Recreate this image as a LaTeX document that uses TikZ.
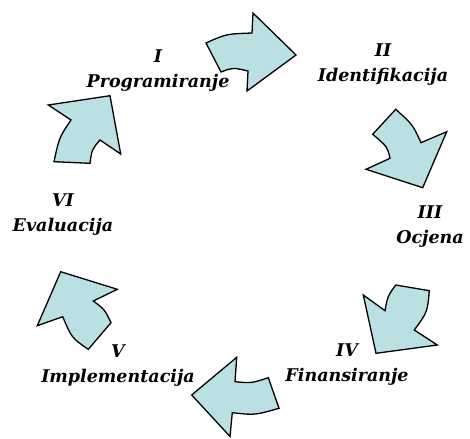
\documentclass[tikz,border=0pt]{standalone}
\usepackage{fontspec}
\setmainfont{DejaVu Serif}
\usepackage{xcolor}
\definecolor{arrowfill}{RGB}{187,224,227}
\begin{document}
\begin{tikzpicture}[x=1pt,y=-1pt,
  cyclearrow/.style={draw=black,fill=arrowfill,line width=1.3pt,line join=miter},
  lbl/.style={font=\fontsize{17.5}{25}\selectfont\bfseries\itshape,align=center,inner sep=0pt}]
\useasboundingbox (0,0) rectangle (470,438);
% Arrow 1 (top)
\draw[cyclearrow] (206,43) .. controls (226,34) .. (252,33) -- (253,13) -- (296,55) -- (247,91) -- (248,71) .. controls (232.8,67.5) .. (221,72) -- cycle;
% Arrow 2
\draw[cyclearrow] (395.7,109.3) .. controls (412.8,124.7) .. (421,142.7) -- (446.7,131.7) -- (422.7,187.7) -- (366,169.3) -- (390,158.3) .. controls (387.4,146.8) .. (372.7,134.3) -- cycle;
% Arrow 3
\draw[cyclearrow] (395.7,285) -- (429.3,290.7) .. controls (427.4,312.1) .. (414.3,330) -- (437.3,345) -- (376,353.3) -- (363.3,295) -- (385,310.7) .. controls (387.6,296.3) .. cycle;
% Arrow 4
\draw[cyclearrow] (191.7,395) -- (236.7,357.3) -- (235,381.7) .. controls (251.7,383.2) .. (268.3,377.7) -- (279,408.3) .. controls (254.8,415.2) .. (232.3,412.7) -- (230,436.5) -- cycle;
% Arrow 5
\draw[cyclearrow] (60.7,271.7) -- (117.3,289.3) -- (93.3,301) .. controls (104.6,309.4) .. (111,322.7) -- (88.3,349.3) .. controls (71.7,337.9) .. (62.7,316.7) -- (37.3,325.7) -- cycle;
% Arrow 6
\draw[cyclearrow] (48.3,105) -- (110,95.7) -- (120.7,154) -- (100,140) .. controls (91.9,149.4) .. (90,163.3) -- (54,161.7) .. controls (59.2,137.5) .. (71,120) -- cycle;
% Labels
\node[lbl] (l1) at (158,71) {I\\Programiranje};
\node[lbl] (l2) at (383,65) {II\\Identifikacija};
\node[lbl] (l3) at (430,227) {III\\Ocjena};
\node[lbl] (l4) at (347,365) {IV\\Finansiranje};
\node[lbl] (l5) at (118,366) {V\\Implementacija};
\node[lbl] (l6) at (63,215) {VI\\Evaluacija};
\end{tikzpicture}
\end{document}
